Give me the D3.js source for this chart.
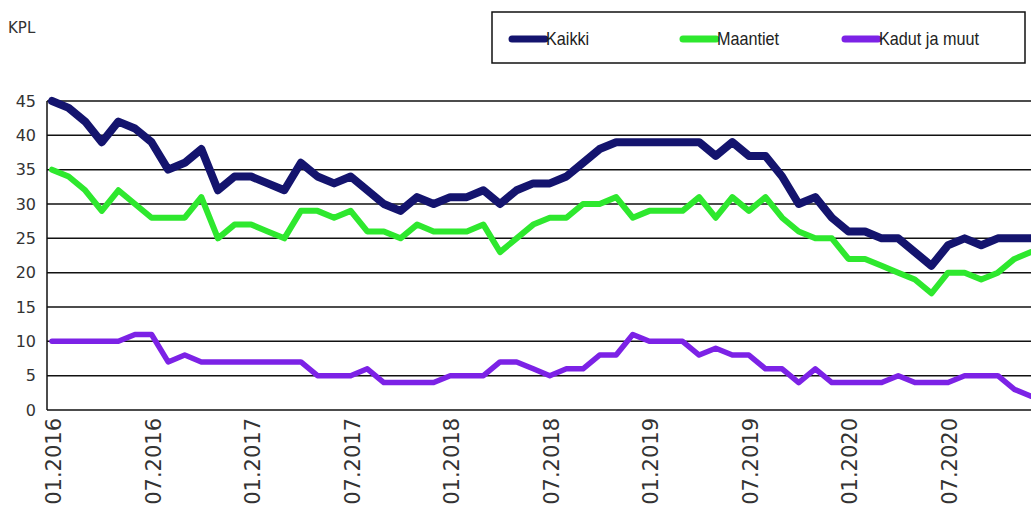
<!DOCTYPE html>
<html>
<head>
<meta charset="utf-8">
<script src="https://cdn.jsdelivr.net/npm/d3@7"></script>
<style>
  body { margin: 0; background: #fff; }
  svg { display: block; }
  text { font-family: 'DejaVu Sans', Verdana, sans-serif; fill: #333; }
</style>
</head>
<body>
<div class="container"></div>
<script>
// monthly counts, 01.2016 - 12.2020
const months = d3.range(60).map(i => `${String(i % 12 + 1).padStart(2, '0')}.${2016 + Math.floor(i / 12)}`);

const kaikki = [45, 44, 42, 39, 42, 41, 39, 35, 36, 38,
  32, 34, 34, 33, 32, 36, 34, 33, 34, 32,
  30, 29, 31, 30, 31, 31, 32, 30, 32, 33,
  33, 34, 36, 38, 39, 39, 39, 39, 39, 39,
  37, 39, 37, 37, 34, 30, 31, 28, 26, 26,
  25, 25, 23, 21, 24, 25, 24, 25, 25, 25];

const maantiet = [35, 34, 32, 29, 32, 30, 28, 28, 28, 31,
  25, 27, 27, 26, 25, 29, 29, 28, 29, 26,
  26, 25, 27, 26, 26, 26, 27, 23, 25, 27,
  28, 28, 30, 30, 31, 28, 29, 29, 29, 31,
  28, 31, 29, 31, 28, 26, 25, 25, 22, 22,
  21, 20, 19, 17, 20, 20, 19, 20, 22, 23];

const kadut = [10, 10, 10, 10, 10, 11, 11, 7, 8, 7,
  7, 7, 7, 7, 7, 7, 5, 5, 5, 6,
  4, 4, 4, 4, 5, 5, 5, 7, 7, 6,
  5, 6, 6, 8, 8, 11, 10, 10, 10, 8,
  9, 8, 8, 6, 6, 4, 6, 4, 4, 4,
  4, 5, 4, 4, 4, 5, 5, 5, 3, 2];

const yTicks = [0, 5, 10, 15, 20, 25, 30, 35, 40, 45];

const series = [
  { name: 'Kaikki', values: kaikki, color: '#14146e', width: 8 },
  { name: 'Maantiet', values: maantiet, color: '#2ee82e', width: 6 },
  { name: 'Kadut ja muut', values: kadut, color: '#7c22e6', width: 5.5 }
];

const width = 1031;
const height = 510;

const svg = d3.select('.container')
  .append('svg')
  .attr('width', width)
  .attr('height', height);

// scales: the plot runs out to the right edge of the picture
const xScale = d3.scalePoint()
  .domain(months)
  .range([52, 1031]);

const yScale = d3.scaleLinear()
  .domain([0, 45])
  .range([410, 101]);

// horizontal grid lines
svg.append('g')
  .selectAll('line')
  .data(yTicks)
  .enter()
  .append('line')
  .attr('x1', 47)
  .attr('x2', width)
  .attr('y1', d => yScale(d))
  .attr('y2', d => yScale(d))
  .attr('stroke', '#111')
  .attr('stroke-width', 1.5);

// left axis line
svg.append('line')
  .attr('x1', 47)
  .attr('x2', 47)
  .attr('y1', yScale(45))
  .attr('y2', yScale(0))
  .attr('stroke', '#111')
  .attr('stroke-width', 1.5);

// y labels
svg.append('g')
  .selectAll('text')
  .data(yTicks)
  .enter()
  .append('text')
  .attr('x', 36)
  .attr('y', d => yScale(d))
  .attr('text-anchor', 'end')
  .attr('dominant-baseline', 'central')
  .attr('font-size', '16px')
  .text(d => d);

// x labels every six months, rotated
svg.append('g')
  .selectAll('text')
  .data(months.filter((d, i) => i % 6 === 0))
  .enter()
  .append('text')
  .attr('transform', d => `translate(${xScale(d) + 2}, 418) rotate(-90)`)
  .attr('text-anchor', 'end')
  .attr('dominant-baseline', 'central')
  .attr('font-size', '21px')
  .text(d => d);

// lines
const line = d3.line()
  .x((d, i) => xScale(months[i]))
  .y(d => yScale(d));

svg.append('g')
  .selectAll('path')
  .data(series)
  .enter()
  .append('path')
  .attr('d', d => line(d.values))
  .attr('fill', 'none')
  .attr('stroke', d => d.color)
  .attr('stroke-width', d => d.width)
  .attr('stroke-linejoin', 'round')
  .attr('stroke-linecap', 'round');

// unit label
svg.append('text')
  .attr('x', 8)
  .attr('y', 28)
  .attr('dominant-baseline', 'central')
  .attr('font-size', '15px')
  .text('KPL');

// legend
const legend = svg.append('g');

legend.append('rect')
  .attr('x', 492)
  .attr('y', 12)
  .attr('width', 533)
  .attr('height', 51)
  .attr('fill', '#fff')
  .attr('stroke', '#111')
  .attr('stroke-width', 1.5);

const legendX = [512, 683, 845];

const item = legend.selectAll('g')
  .data(series)
  .enter()
  .append('g')
  .attr('transform', (d, i) => `translate(${legendX[i]}, 39)`);

item.append('line')
  .attr('x1', 0)
  .attr('x2', 33)
  .attr('stroke', d => d.color)
  .attr('stroke-width', 7)
  .attr('stroke-linecap', 'round');

// narrow-looking legend text, squeezed horizontally
item.append('text')
  .attr('transform', 'translate(34, 0) scale(0.9, 1)')
  .attr('dominant-baseline', 'central')
  .attr('font-size', '18px')
  .style('font-family', "'Liberation Sans', Arial, sans-serif")
  .style('fill', '#222')
  .text(d => d.name);
</script>
</body>
</html>
